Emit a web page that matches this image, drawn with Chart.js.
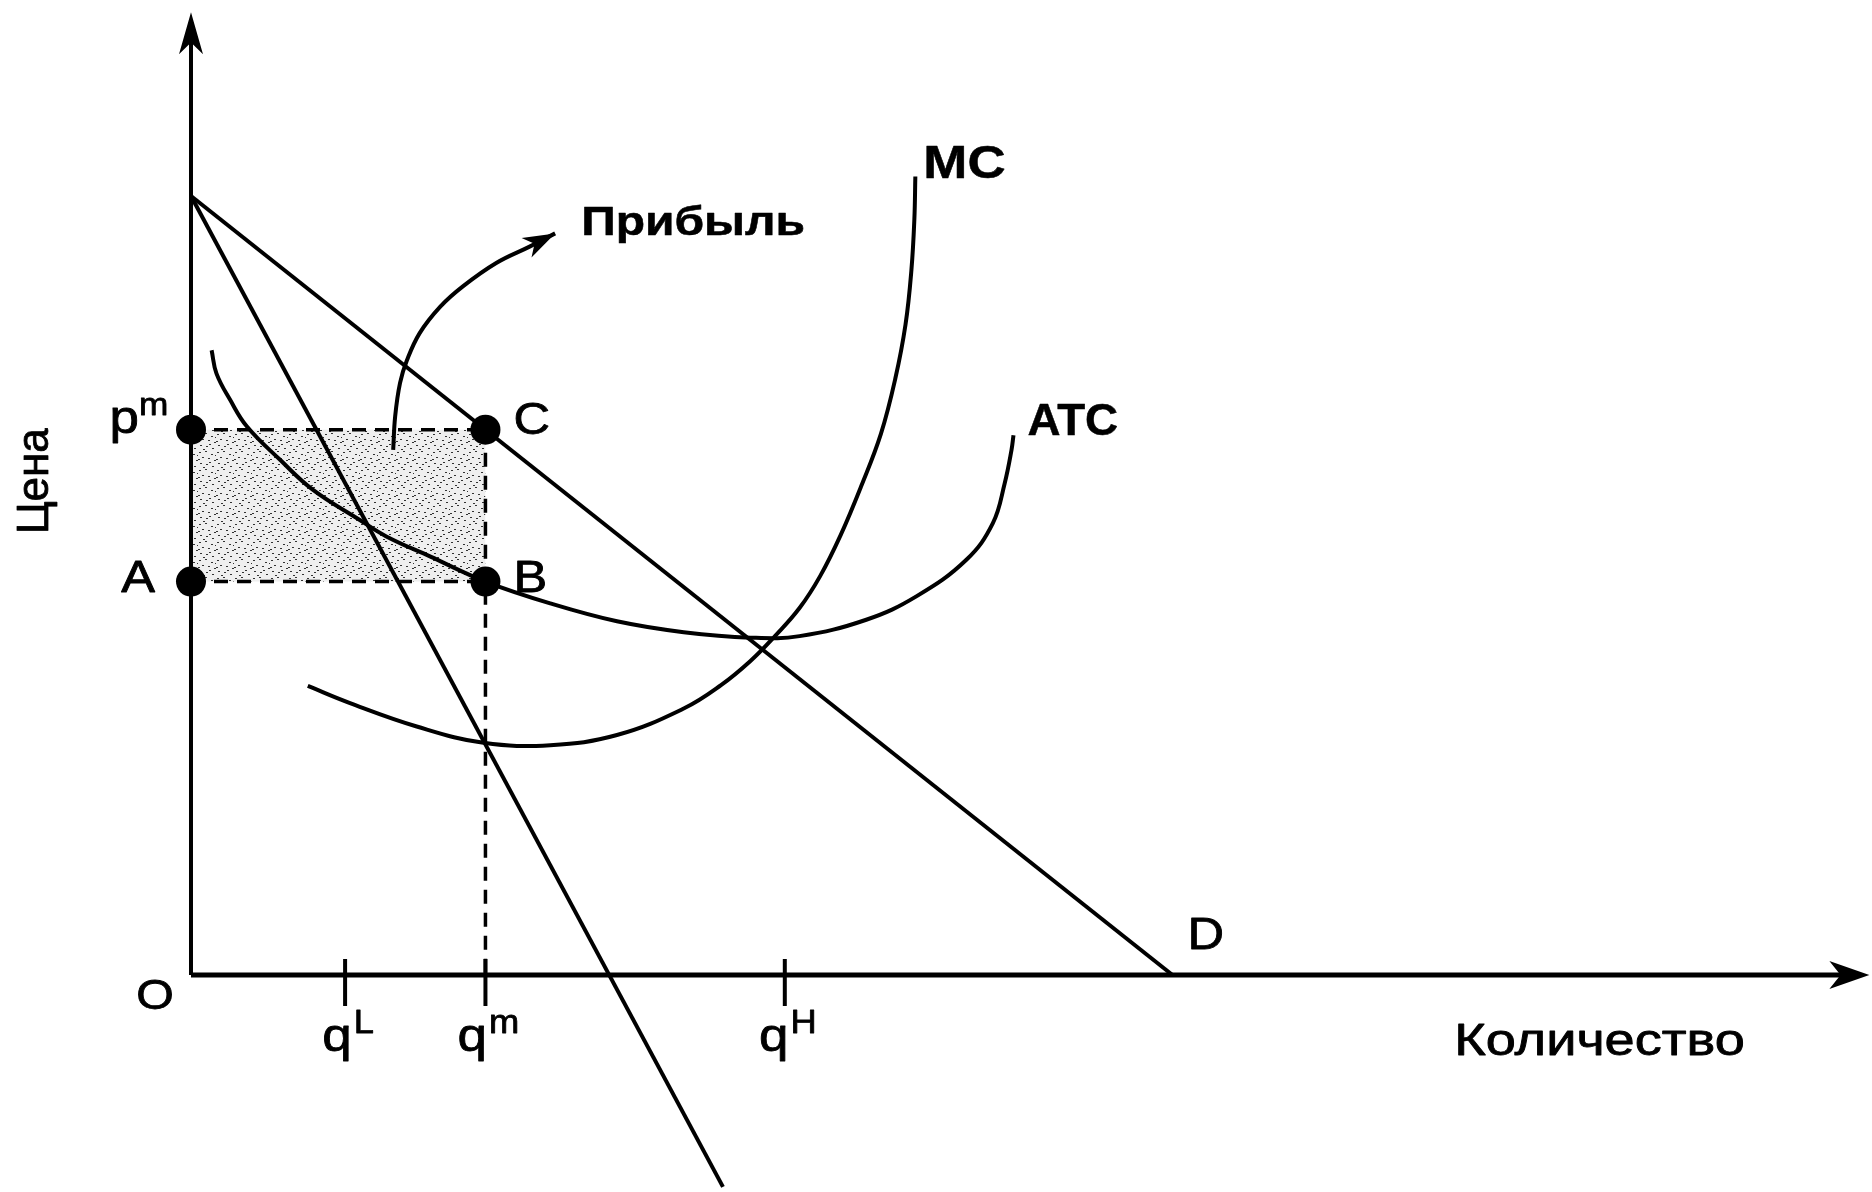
<!DOCTYPE html>
<html lang="ru">
<head>
<meta charset="utf-8">
<title>Монополия: прибыль</title>
<script src="https://cdn.jsdelivr.net/npm/chart.js@4.4.1/dist/chart.umd.min.js"></script>
<style>
  html, body { margin: 0; padding: 0; background: #fff; }
  canvas { display: block; }
</style>
</head>
<body>
<canvas id="chart" width="1872" height="1192"></canvas>
<script>
// demand D and marginal revenue (straight lines)
var demandQ = [0, 100];
var demandP = [100, 0];
var mrQ = [0, 54.2];
var mrP = [100, -27.2];

// average total cost ATC
var atcQ = [2.1, 2.6, 4.0, 5.7, 9.1, 12.4, 17.2, 19.9, 24.4, 30, 36.6, 43.4, 50.2, 57.0, 62.0, 68.8, 73.9, 79.0, 81.7, 82.9, 83.6, 83.8];
var atcP = [80.2, 77.2, 73.8, 70.4, 66.1, 62.3, 58.4, 56.3, 53.7, 50.5, 47.7, 45.4, 44.0, 43.3, 43.5, 45.6, 48.6, 53.3, 58.0, 63.1, 67.4, 69.3];

// marginal cost MC
var mcQ = [11.9, 16.2, 23.0, 29.8, 36.6, 43.4, 50.2, 54.0, 57.0, 59.5, 62.0, 64.1, 66.2, 68.3, 70.3, 71.75, 72.8, 73.4, 73.7, 73.8];
var mcP = [37.1, 34.9, 31.9, 29.8, 29.5, 30.8, 34.2, 37.2, 40.3, 43.5, 47.1, 51.2, 56.5, 62.8, 69.5, 76.5, 83.5, 90.5, 97.0, 102.5];

// monopoly quantity / price and ATC at that quantity
var qm = 30;
var pm = 70;
var atcAtQm = 50.5;

// quantity ticks on the horizontal axis
var qTicks = [15.7, 30, 60.5];
var qTickSup = ['L', 'm', 'H'];

// curved pointer to the profit label
var arrowQ = [20.6, 20.8, 21.3, 22.0, 23.3, 25.4, 27.7, 31.1, 34.5, 37.1];
var arrowP = [67.4, 71.7, 76.0, 78.9, 82.4, 85.8, 88.4, 91.4, 93.5, 95.2];

// axis extents
var axisTopP = 123.6;
var axisEndQ = 171.0;

var FONT = '"Liberation Sans", Arial, Helvetica, sans-serif';
var STRETCH = 1.15;

function pts(xs, ys) {
    return xs.map(function (x, i) { return { x: x, y: ys[i] }; });
}

function makeStipple() {
    var t = document.createElement('canvas');
    t.width = 18; t.height = 18;
    var g = t.getContext('2d');
    g.fillStyle = '#efefef';
    g.fillRect(0, 0, 18, 18);
    g.fillStyle = '#333';
    [[1, 2], [7, 1], [13, 4], [4, 7], [10, 8], [16, 10], [2, 13], [8, 14], [14, 16], [11, 12], [5, 17], [17, 5], [0, 9]]
        .forEach(function (p) { g.fillRect(p[0], p[1], 2, 1); });
    return g.createPattern(t, 'repeat');
}

// text with a thin outline so it looks as heavy as the scanned labels
function txt(c, s, x, y, size, weight, align, stretch) {
    c.save();
    c.font = weight + ' ' + size + 'px ' + FONT;
    c.textAlign = align;
    c.textBaseline = 'alphabetic';
    c.fillStyle = '#000';
    c.strokeStyle = '#000';
    c.lineWidth = weight === 'bold' ? 0.5 : 0.8;
    c.lineJoin = 'round';
    c.translate(x, y);
    c.scale(stretch || 1, 1);
    c.fillText(s, 0, 0);
    c.strokeText(s, 0, 0);
    c.restore();
}

function arrowHead(c, tx, ty, fx, fy, len, half) {
    var a = Math.atan2(ty - fy, tx - fx);
    c.save();
    c.translate(tx, ty);
    c.rotate(a);
    c.beginPath();
    c.moveTo(0, 0);
    c.lineTo(-len, -half);
    c.lineTo(-len * 0.72, 0);
    c.lineTo(-len, half);
    c.closePath();
    c.fillStyle = '#000';
    c.fill();
    c.restore();
}

var decorations = {
    id: 'decorations',
    beforeDraw: function (chart) {
        var c = chart.ctx;
        c.save();
        c.fillStyle = '#fff';
        c.fillRect(0, 0, chart.width, chart.height);
        c.restore();
    },
    afterDraw: function (chart) {
        var c = chart.ctx;
        var sx = chart.scales.x, sy = chart.scales.y;
        var X = function (v) { return sx.getPixelForValue(v); };
        var Y = function (v) { return sy.getPixelForValue(v); };
        var ox = X(0), oy = Y(0);

        // axis arrows
        arrowHead(c, ox, Y(axisTopP), ox, Y(0), 42, 12);
        arrowHead(c, X(axisEndQ), oy, X(0), oy, 40, 14);

        // profit pointer arrow
        var n = arrowQ.length;
        arrowHead(c, X(arrowQ[n - 1]), Y(arrowP[n - 1]), X(arrowQ[n - 3]), Y(arrowP[n - 3]), 32, 11);

        // tick marks + q labels
        c.save();
        c.strokeStyle = '#000';
        c.lineWidth = 4;
        qTicks.forEach(function (q, i) {
            var tx = X(q);
            c.beginPath();
            c.moveTo(tx, oy - 16);
            c.lineTo(tx, oy + 31);
            c.stroke();

            c.font = 'normal 46px ' + FONT;
            var wq = c.measureText('q').width * STRETCH;
            c.font = 'normal 33px ' + FONT;
            var ws = c.measureText(qTickSup[i]).width * 1.1;
            var left = tx + 2 - (wq + ws) / 2;
            txt(c, 'q', left, oy + 76, 46, 'normal', 'left', STRETCH);
            txt(c, qTickSup[i], left + wq + 2, oy + 58, 33, 'normal', 'left', 1.1);
        });
        c.restore();

        // origin and axis titles
        txt(c, 'O', ox - 36, oy + 34, 42, 'normal', 'center', STRETCH);
        txt(c, 'Количество', X(128.7), oy + 80, 44, 'normal', 'left', 1.23);
        c.save();
        c.translate(48, Y(63.4));
        c.rotate(-Math.PI / 2);
        txt(c, 'Цена', 0, 0, 44, 'normal', 'center', 1);
        c.restore();

        // point labels
        var cx = X(qm), cy = Y(pm), by = Y(atcAtQm);
        txt(c, 'C', cx + 28, cy + 4, 44, 'normal', 'left', STRETCH);
        txt(c, 'B', cx + 28, by + 10, 44, 'normal', 'left', STRETCH);
        txt(c, 'A', ox - 36, by + 10, 44, 'normal', 'right', STRETCH);
        txt(c, 'p', ox - 52, cy + 3, 46, 'normal', 'right', STRETCH);
        txt(c, 'm', ox - 52, cy - 15, 32, 'normal', 'left', 1.1);

        // curve labels
        var dn = demandQ.length - 1;
        txt(c, 'D', X(demandQ[dn]) + 15, Y(demandP[dn]) - 26, 44, 'normal', 'left', STRETCH);
        var mn = mcQ.length - 1;
        txt(c, 'MC', X(mcQ[mn]) + 8, Y(mcP[mn]) + 1, 46, 'bold', 'left', STRETCH);
        var an = atcQ.length - 1;
        txt(c, 'ATC', X(atcQ[an]) + 14, Y(atcP[an]), 44, 'bold', 'left', 1.04);
        txt(c, 'Прибыль', X(arrowQ[n - 1]) + 26, Y(arrowP[n - 1]) + 2, 40, 'bold', 'left', 1.2);
    }
};

var solid = { showLine: true, pointRadius: 0, borderColor: '#000', borderWidth: 4, fill: false, order: 2 };
var dashed = { showLine: true, pointRadius: 0, borderColor: '#000', borderWidth: 3.5, borderDash: [14, 9], fill: false, order: 5 };

function line(base, data, extra) {
    return Object.assign({}, base, { data: data }, extra || {});
}

new Chart(document.getElementById('chart'), {
    type: 'scatter',
    data: {
        datasets: [
            {
                label: 'Прибыль',
                data: pts([0, qm], [pm, pm]),
                showLine: true,
                pointRadius: 0,
                borderWidth: 0,
                borderColor: 'rgba(0,0,0,0)',
                backgroundColor: makeStipple(),
                fill: { value: atcAtQm },
                order: 10
            },
            line(dashed, pts([0, qm], [pm, pm]), { label: 'pm-C' }),
            line(dashed, pts([0, qm], [atcAtQm, atcAtQm]), { label: 'A-B' }),
            line(dashed, pts([qm, qm], [pm, 0]), { label: 'qm' }),
            line(solid, pts([0, 0], [0, axisTopP - 2.5]), { label: 'axis P', borderWidth: 4, order: 3 }),
            line(solid, pts([0, axisEndQ - 2], [0, 0]), { label: 'axis Q', borderWidth: 5, order: 3 }),
            line(solid, pts(demandQ, demandP), { label: 'D' }),
            line(solid, pts(mrQ, mrP), { label: 'MR' }),
            line(solid, pts(atcQ, atcP), { label: 'ATC', tension: 0.4 }),
            line(solid, pts(mcQ, mcP), { label: 'MC', tension: 0.4 }),
            line(solid, pts(arrowQ, arrowP), { label: 'arrow', tension: 0.4, borderWidth: 4 }),
            {
                label: 'points',
                data: pts([0, qm, 0, qm], [pm, pm, atcAtQm, atcAtQm]),
                showLine: false,
                pointRadius: 15,
                pointBackgroundColor: '#000',
                pointBorderWidth: 0,
                order: 0
            }
        ]
    },
    options: {
        responsive: false,
        animation: false,
        devicePixelRatio: 1,
        layout: { autoPadding: false, padding: 0 },
        plugins: { legend: { display: false }, tooltip: { enabled: false } },
        events: [],
        scales: {
            x: { type: 'linear', display: false, min: -19.46, max: 171.27 },
            y: { type: 'linear', display: false, min: -27.86, max: 125.16 }
        }
    },
    plugins: [decorations]
});
</script>
</body>
</html>
